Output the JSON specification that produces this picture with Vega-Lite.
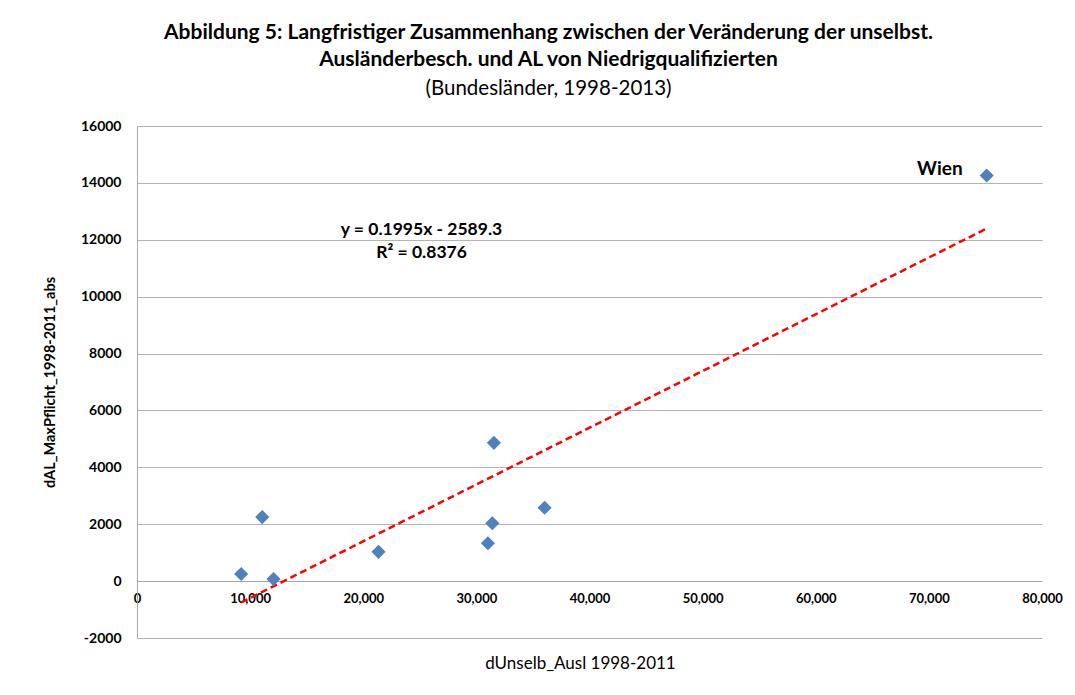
{
  "$schema": "https://vega.github.io/schema/vega-lite/v6.json",
  "width": 905,
  "height": 512,
  "autosize": {"type": "none"},
  "padding": {"left": 137, "top": 126, "right": 33, "bottom": 57},
  "background": "white",
  "config": {
    "font": "Lato",
    "view": {"stroke": null}
  },
  "title": {
    "text": ["Abbildung 5: Langfristiger Zusammenhang zwischen der Veränderung der unselbst.", "Ausländerbesch. und AL von Niedrigqualifizierten"],
    "subtitle": "(Bundesländer, 1998-2013)",
    "font": "Lato",
    "subtitleFont": "Lato",
    "fontSize": 21,
    "fontWeight": "bold",
    "subtitleFontSize": 20.5,
    "subtitleFontWeight": "normal",
    "lineHeight": 27,
    "subtitleLineHeight": 27,
    "subtitlePadding": 9,
    "color": "#000000",
    "subtitleColor": "#000000",
    "anchor": "middle",
    "frame": "group",
    "dx": -41,
    "offset": 20
  },
  "datasets": {
    "points": [
      {"dUnselb_Ausl": 9210, "dAL": 250, "label": ""},
      {"dUnselb_Ausl": 11070, "dAL": 2250, "label": ""},
      {"dUnselb_Ausl": 12070, "dAL": 70, "label": ""},
      {"dUnselb_Ausl": 21350, "dAL": 1030, "label": ""},
      {"dUnselb_Ausl": 31020, "dAL": 1330, "label": ""},
      {"dUnselb_Ausl": 31410, "dAL": 2035, "label": ""},
      {"dUnselb_Ausl": 31550, "dAL": 4860, "label": ""},
      {"dUnselb_Ausl": 36030, "dAL": 2580, "label": ""},
      {"dUnselb_Ausl": 75110, "dAL": 14260, "label": "Wien"}
    ],
    "trend": [
      {"dUnselb_Ausl": 9210, "dAL": -752},
      {"dUnselb_Ausl": 75110, "dAL": 12395}
    ],
    "equation": [
      {"dUnselb_Ausl": 25150, "dAL": 12360, "text": "y = 0.1995x - 2589.3"},
      {"dUnselb_Ausl": 25150, "dAL": 11550, "text": "R² = 0.8376"}
    ]
  },
  "layer": [
    {
      "data": {"name": "trend"},
      "mark": {"type": "line", "color": "#FF0000", "strokeWidth": 2.5, "strokeDash": [7, 4]},
      "encoding": {
        "x": {
          "field": "dUnselb_Ausl", "type": "quantitative",
          "scale": {"domain": [0, 80000], "nice": false, "zero": false},
          "axis": {
            "title": "dUnselb_Ausl 1998-2011",
            "values": [0, 10000, 20000, 30000, 40000, 50000, 60000, 70000, 80000],
            "format": ",d",
            "offset": -57,
            "grid": false,
            "ticks": false,
            "domain": true,
            "domainColor": "#a6a6a6",
            "domainWidth": 1,
            "labelFont": "Lato",
            "labelFontSize": 13,
            "labelFontWeight": "bold",
            "labelColor": "#000000",
            "labelPadding": 11,
            "labelFlush": false,
            "titleFont": "Lato",
            "titleFontSize": 17,
            "titleFontWeight": "normal",
            "titleColor": "#000000",
            "titleX": 443,
            "titleY": 82,
            "titleAlign": "center",
            "titleBaseline": "middle"
          }
        },
        "y": {
          "field": "dAL", "type": "quantitative",
          "scale": {"domain": [-2000, 16000], "nice": false, "zero": false},
          "axis": {
            "title": "dAL_MaxPflicht_1998-2011_abs",
            "values": [-2000, 0, 2000, 4000, 6000, 8000, 10000, 12000, 14000, 16000],
            "labelExpr": "'' + datum.value",
            "grid": true,
            "gridColor": "#b3b3b3",
            "gridWidth": 1,
            "ticks": false,
            "domain": true,
            "domainColor": "#a6a6a6",
            "domainWidth": 1,
            "labelFont": "Lato",
            "labelFontSize": 14,
            "labelFontWeight": "bold",
            "labelColor": "#000000",
            "labelPadding": 16,
            "titleFont": "Lato",
            "titleFontSize": 14.5,
            "titleFontWeight": "bold",
            "titleColor": "#000000",
            "titleAngle": -90,
            "titleX": -87,
            "titleY": 256,
            "titleAlign": "center",
            "titleBaseline": "middle"
          }
        }
      }
    },
    {
      "data": {"name": "points"},
      "mark": {"type": "point", "shape": "diamond", "filled": true, "color": "#4F81BD", "size": 200, "opacity": 1},
      "encoding": {
        "x": {"field": "dUnselb_Ausl", "type": "quantitative"},
        "y": {"field": "dAL", "type": "quantitative"}
      }
    },
    {
      "data": {"name": "points"},
      "transform": [{"filter": "datum.label != ''"}],
      "mark": {"type": "text", "align": "right", "baseline": "middle", "dx": -24, "dy": -6, "fontSize": 19, "fontWeight": "bold", "font": "Lato", "color": "#000000"},
      "encoding": {
        "x": {"field": "dUnselb_Ausl", "type": "quantitative"},
        "y": {"field": "dAL", "type": "quantitative"},
        "text": {"field": "label"}
      }
    },
    {
      "data": {"name": "equation"},
      "mark": {"type": "text", "align": "center", "baseline": "middle", "fontSize": 17.5, "fontWeight": "bold", "font": "Lato", "color": "#000000"},
      "encoding": {
        "x": {"field": "dUnselb_Ausl", "type": "quantitative"},
        "y": {"field": "dAL", "type": "quantitative"},
        "text": {"field": "text"}
      }
    }
  ]
}
